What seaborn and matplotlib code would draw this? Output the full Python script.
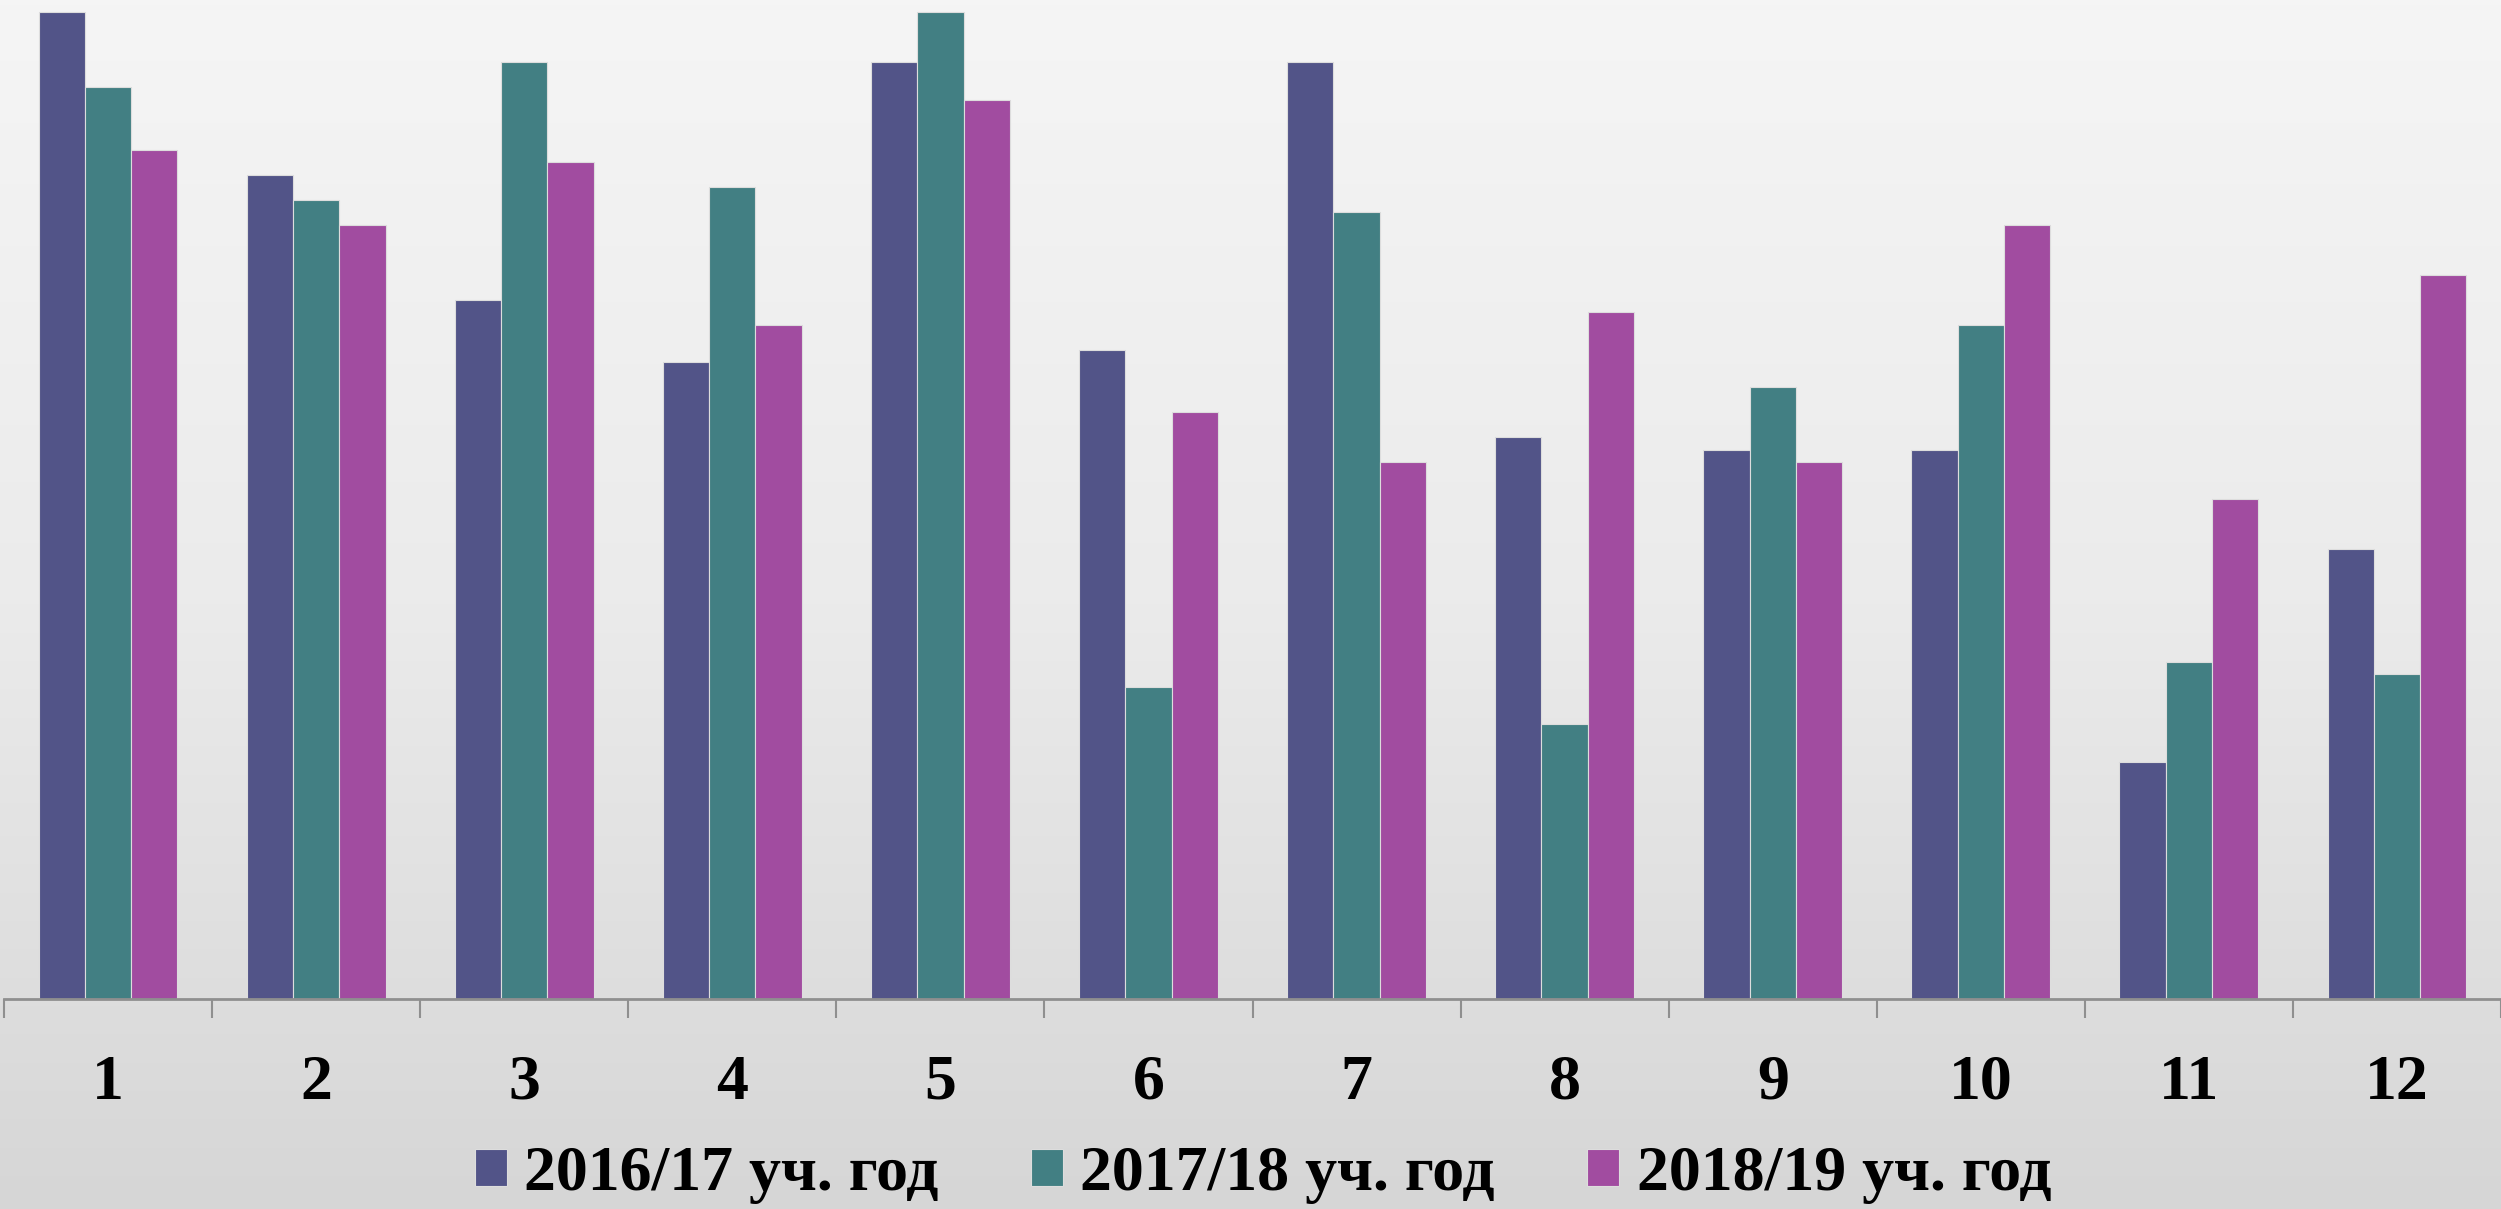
import matplotlib
matplotlib.use("Agg")
import matplotlib.pyplot as plt
import seaborn as sns
import numpy as np
import pandas as pd

# data (bar heights in chart units)
categories = ["1", "2", "3", "4", "5", "6", "7", "8", "9", "10", "11", "12"]
series_names = ["2016/17 уч. год", "2017/18 уч. год", "2018/19 уч. год"]
y2016 = [79, 66, 56, 51, 75, 52, 75, 45, 44, 44, 19, 36]
y2017 = [73, 64, 75, 65, 79, 25, 63, 22, 49, 54, 27, 26]
y2018 = [68, 62, 67, 54, 72, 47, 43, 55, 43, 62, 40, 58]
colors = ["#525488", "#427F83", "#A14CA0"]

df = pd.DataFrame({
    "cat": categories * 3,
    "series": [series_names[0]] * 12 + [series_names[1]] * 12 + [series_names[2]] * 12,
    "value": y2016 + y2017 + y2018,
})

sns.set_theme(style="white")
plt.rcParams["font.family"] = ["Liberation Serif", "DejaVu Serif"]
plt.rcParams["font.weight"] = "bold"
plt.rcParams["text.color"] = "black"
plt.rcParams["xtick.color"] = "black"

fig = plt.figure(figsize=(25.01, 12.09), dpi=100)

# background gradient
bg = fig.add_axes([0, 0, 1, 1], zorder=-10)
grad = np.linspace(0, 1, 256).reshape(-1, 1)
bg.imshow(grad, aspect="auto", cmap=matplotlib.colors.LinearSegmentedColormap.from_list(
    "bg", ["#f5f5f5", "#ebebeb", "#d6d6d6"]), extent=[0, 1, 0, 1])
bg.axis("off")

ax = fig.add_axes([0.0016, 0.1737, 0.9984, 0.8263])
ax.set_facecolor("none")
sns.barplot(data=df, x="cat", y="value", hue="series", palette=colors,
            width=0.667, ax=ax, saturation=1, linewidth=0.8, edgecolor="#dddddd")

ax.set_xlim(-0.5, 11.5)
ax.set_ylim(0, 80)
ax.set_xlabel("")
ax.set_ylabel("")
ax.set_yticks([])
for s in ["top", "right", "left"]:
    ax.spines[s].set_visible(False)
ax.spines["bottom"].set_color("#8f8f8f")
ax.spines["bottom"].set_linewidth(2.0)

# tick marks at category boundaries, labels at centers
ax.set_xticks(np.arange(-0.5, 12, 1))
ax.set_xticklabels([])
ax.tick_params(axis="x", which="major", length=14, width=1.5, color="#8f8f8f", bottom=True)
ax.set_xticks(np.arange(12), minor=True)
ax.set_xticklabels(categories, minor=True, fontsize=46, fontweight="bold", color="black")
ax.tick_params(axis="x", which="minor", length=0, pad=40)

leg = ax.get_legend()
handles, labels = ax.get_legend_handles_labels()
leg.remove()
fig.legend(handles, labels, loc="center", bbox_to_anchor=(0.505, 0.028), ncol=3,
           frameon=False, prop={"family": "Liberation Serif", "weight": "bold", "size": 46},
           handlelength=0.5, handleheight=0.5, handletextpad=0.27, columnspacing=1.45)

fig.savefig("out.png", dpi=100)
